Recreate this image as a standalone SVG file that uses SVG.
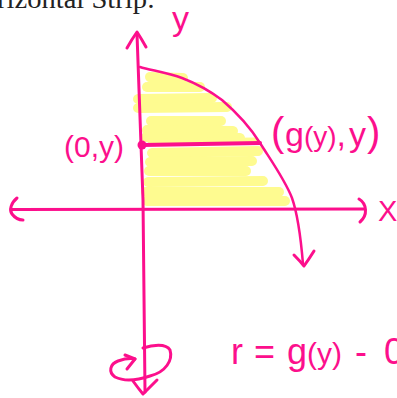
<svg xmlns="http://www.w3.org/2000/svg" width="397" height="398" viewBox="0 0 397 398">
<style>
.ink{fill:none;stroke:#fc0f8c;stroke-width:3;stroke-linecap:round;stroke-linejoin:round}
.thin{stroke-width:2.5}
.hl{fill:none;stroke:#fefb90;stroke-width:10;stroke-linecap:round}
.lbl{fill:#fc0f8c;font-family:"Liberation Sans",Arial,sans-serif}
.hdr{fill:#222;font-family:"Liberation Serif","Times New Roman",serif;font-size:28px}
</style>
<rect width="397" height="398" fill="#fff"/>
<text class="hdr" x="-3" y="8" textLength="158" lengthAdjust="spacingAndGlyphs">rizontal Strip:</text>
<g id="shading">
<path class="hl" d="M150,77 L183,78"/>
<path class="hl" d="M147,87 L200,87"/>
<path class="hl" d="M138,99 L212,98"/>
<path class="hl" d="M138,108 L227,107"/>
<path class="hl" d="M151,121 L221,121"/>
<path class="hl" d="M147,130 L233,131"/>
<path class="hl" d="M146,137 L240,138"/>
<path class="hl" style="stroke-width:5" d="M150,141 L255,140"/>
<path class="hl" d="M152,153 L258,151"/>
<path class="hl" d="M150,162 L252,161"/>
<path class="hl" d="M149,171 L246,171"/>
<path class="hl" d="M148,182 L263,181"/>
<path class="hl" d="M146,192 L279,192"/>
<path class="hl" d="M147,201 L285,201"/>
</g>
<g id="axes">
<path class="ink" d="M137,34 L143,200 L145,392"/>
<path class="ink" d="M127,48 Q132,39 137,32 Q141,38 146,47"/>
<path class="ink" d="M12,209.5 L364,209"/>
<path class="ink" d="M17,198 C11,203 9,210 12,214 C15,218 19,220 23,220"/>
<path class="ink" d="M359,199 C367,204 368,215 360,222"/>
<path class="ink" d="M133,381 Q138,388 143,394 Q150,387 157,380"/>
<path class="ink" d="M143,348 C152,345 166,343 170,350 C173,360 166,372 150,376 C138,380 125,382 115,377 C108,372 110,364 118,361 C124,359 130,358 135,359"/>
<path class="ink" d="M125,355 L135,359 L127,369"/>
</g>
<g id="curve">
<path class="ink thin" d="M140,67 C150,70 168,73 182,78 C195,83 210,91 222,100 C236,112 250,127 260,143 C272,162 285,180 292,198 C298,215 301,240 303,264"/>
<path class="ink" d="M294,255 Q300,261 304,266 Q309,259 314,251"/>
</g>
<g id="strip">
<path class="ink" style="stroke-width:4" d="M142,145 L260,143"/>
<circle cx="142" cy="145" r="4.5" fill="#fc0f8c"/>
</g>
<g id="labels">
<text class="lbl" font-size="34" x="172" y="30">y</text>
<text class="lbl" font-size="29" x="378" y="221">X</text>
<text class="lbl" font-size="30" y="157"><tspan x="64">(</tspan><tspan x="74">0</tspan><tspan x="90.7">,</tspan><tspan x="99">y</tspan><tspan x="114">)</tspan></text>
<text class="lbl" font-size="34" y="146"><tspan x="271" font-size="40">(</tspan><tspan x="285">g</tspan><tspan x="304" font-size="28">(</tspan><tspan x="313.3" font-size="28">y</tspan><tspan x="327.3" font-size="28">)</tspan><tspan x="336.6">,</tspan><tspan x="349">y</tspan><tspan x="367" font-size="40">)</tspan></text>
<text class="lbl" font-size="36" y="364"><tspan x="231">r</tspan><tspan x="254">=</tspan><tspan x="287">g</tspan><tspan x="307" font-size="30">(</tspan><tspan x="317" font-size="30">y</tspan><tspan x="332" font-size="30">)</tspan><tspan x="355">-</tspan><tspan x="384">0</tspan></text>
</g>
</svg>
